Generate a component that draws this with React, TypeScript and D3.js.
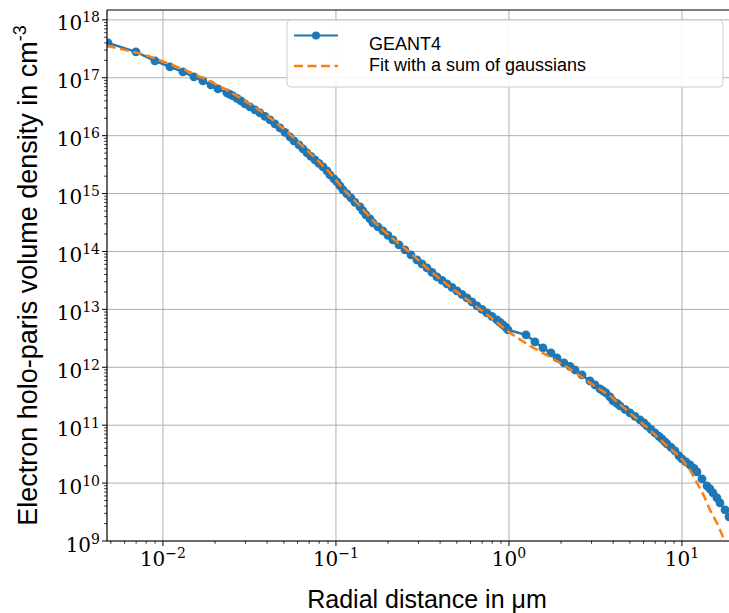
import React from "react";
import * as d3 from "d3";

// GEANT4 simulated profile (radial distance in µm, density in cm^-3)
const geantX = [
  0.00481, 0.00698, 0.00899, 0.01098, 0.01305, 0.01511, 0.01702, 0.01894, 0.02079, 0.02343,
  0.02439, 0.02538, 0.02677, 0.02824, 0.02979, 0.03184, 0.03403, 0.03637, 0.03887, 0.04154,
  0.04439, 0.04745, 0.05071, 0.05419, 0.05719, 0.06112, 0.0645, 0.06801, 0.0717, 0.07562,
  0.07975, 0.08412, 0.08872, 0.09233, 0.09736, 0.10135, 0.10546, 0.10977, 0.11576, 0.12207,
  0.12874, 0.13762, 0.14324, 0.14906, 0.1572, 0.16362, 0.17486, 0.18689, 0.19974, 0.21355,
  0.2313, 0.25049, 0.27135, 0.2939, 0.31412, 0.33574, 0.35884, 0.38357, 0.40996, 0.43816,
  0.4683, 0.50051, 0.53495, 0.57175, 0.61108, 0.65313, 0.69808, 0.74611, 0.79744, 0.85229,
  0.88716, 0.92325, 0.96093, 0.98674,
  1.254, 1.4131, 1.5726, 1.749, 1.8943, 2.0795, 2.2525, 2.4073, 2.6424, 2.9383,
  3.141, 3.3574, 3.4946, 3.6366, 3.8357, 3.9921, 4.2104, 4.3818, 4.683, 5.0051,
  5.3495, 5.7175, 6.03, 6.2762, 6.6194, 6.9813, 7.3631, 7.6626, 7.975, 8.1905,
  8.6375, 9.1112, 9.6097, 10.0, 10.546, 11.122, 11.731, 12.211, 13.05, 13.947,
  14.514, 15.11, 15.935, 16.586, 17.73, 18.696,
];
const geantY = [
  4.01e17, 2.8e17, 1.96e17, 1.54e17, 1.26e17, 1.04e17, 8.84e16, 7.54e16, 6.43e16, 5.49e16,
  5.17e16, 4.87e16, 4.41e16, 3.99e16, 3.54e16, 3.14e16, 2.79e16, 2.48e16, 2.15e16, 1.88e16,
  1.6e16, 1.36e16, 1.14e16, 9.54e15, 8.13e15, 6.94e15, 5.92e15, 5.05e15, 4.39e15, 3.82e15,
  3.32e15, 2.89e15, 2.47e15, 2.1e15, 1.8e15, 1.59e15, 1.36e15, 1.16e15, 9.88e14, 8.43e14,
  7.05e14, 5.89e14, 5.03e14, 4.29e14, 3.66e14, 3.12e14, 2.66e14, 2.27e14, 1.9e14, 1.59e14,
  1.3e14, 1.07e14, 8.74e13, 7.16e13, 6.11e13, 5.21e13, 4.36e13, 3.64e13, 3.17e13, 2.76e13,
  2.4e13, 2.09e13, 1.82e13, 1.58e13, 1.35e13, 1.15e13, 1.0e13, 8.7e12, 7.57e12, 6.59e12,
  5.96e12, 5.4e12, 4.89e12, 4.43e12,
  3.63e12, 2.75e12, 2.16e12, 1.77e12, 1.45e12, 1.19e12, 1.04e12, 9.02e11, 7.39e11, 5.82e11,
  4.97e11, 4.24e11, 3.91e11, 3.61e11, 3.08e11, 2.63e11, 2.38e11, 2.15e11, 1.88e11, 1.63e11,
  1.42e11, 1.24e11, 1.1e11, 9.72e10, 8.46e10, 7.36e10, 6.41e10, 5.8e10, 5.15e10, 4.75e10,
  4.14e10, 3.6e10, 2.95e10, 2.62e10, 2.32e10, 2.06e10, 1.8e10, 1.56e10, 1.18e10, 8.95e9,
  7.94e9, 6.77e9, 5.55e9, 4.55e9, 3.44e9, 2.61e9,
];

// Fit with a sum of gaussians
const fitX = [
  0.00474, 0.00603, 0.00787, 0.01027, 0.0134, 0.01749, 0.02282, 0.02978, 0.03886, 0.05072,
  0.06194, 0.07562, 0.0923, 0.1127, 0.1376, 0.168, 0.205, 0.2679, 0.3495, 0.4561,
  0.5953, 0.7768, 1.014, 1.322, 1.725, 2.252, 2.938, 3.834, 5.002, 6.527,
  7.975, 9.73, 11.12, 12.21, 13.4, 14.52, 15.93, 17.26, 18.2,
];
const fitY = [
  3.56e17, 3.03e17, 2.49e17, 1.85e17, 1.37e17, 9.57e16, 6.43e16, 3.99e16, 2.38e16, 1.26e16,
  7.22e15, 4.14e15, 2.28e15, 1.11e15, 6.13e14, 3.12e14, 1.82e14, 9.65e13, 4.62e13, 2.45e13,
  1.35e13, 7.42e12, 3.93e12, 2.34e12, 1.51e12, 9.38e11, 5.38e11, 3.21e11, 1.63e11, 8.3e10,
  4.75e10, 2.84e10, 1.69e10, 1.01e10, 6.01e9, 3.44e9, 2.05e9, 1.18e9, 7.6e8,
];

const xDomain = [0.00475, 20.25];
const yDomain = [1e9, 1.48e18];
const xMajorExp = [-2, -1, 0, 1];
const yMajorExp = [9, 10, 11, 12, 13, 14, 15, 16, 17, 18];
const legendLabels = ["GEANT4", "Fit with a sum of gaussians"];
const xLabel = "Radial distance in μm";
const yLabel = "Electron holo-paris volume density in cm";
const yLabelSup = "-3";

const W = 729;
const H = 613;
const M = { left: 107, top: 10, right: 735, bottom: 541 };
const BLUE = "#1f77b4";
const ORANGE = "#ff7f0e";
const GRID = "#b0b0b0";
const SERIF = "'DejaVu Serif', serif";
const SANS = "'Liberation Sans', Arial, sans-serif";

const fmtExp = (e: number) => (e < 0 ? "\u2212" + Math.abs(e) : String(e));

export default function App() {
  const x = d3.scaleLog().domain(xDomain).range([M.left, M.right]);
  const y = d3.scaleLog().domain(yDomain).range([M.bottom, M.top]);

  const geant = geantX.map((v, i) => [v, geantY[i]] as [number, number]);
  const fit = fitX.map((v, i) => [v, fitY[i]] as [number, number]);
  const line = d3
    .line<[number, number]>()
    .x((d) => x(d[0]))
    .y((d) => y(d[1]));

  const xMinor: number[] = [];
  for (let e = -3; e <= 1; e++) {
    for (let m = 2; m <= 9; m++) {
      const v = m * Math.pow(10, e);
      if (v >= xDomain[0] && v <= xDomain[1]) xMinor.push(v);
    }
  }
  const yMinor: number[] = [];
  for (let e = 9; e <= 18; e++) {
    for (let m = 2; m <= 9; m++) {
      const v = m * Math.pow(10, e);
      if (v >= yDomain[0] && v <= yDomain[1]) yMinor.push(v);
    }
  }

  const legX = 287;
  const legY = 20;

  return (
    <svg
      width={W}
      height={H}
      style={{ position: "absolute", left: 0, top: 0, background: "#fff" }}
    >
      <defs>
        <clipPath id="plotClip">
          <rect x={M.left} y={M.top} width={M.right - M.left} height={M.bottom - M.top} />
        </clipPath>
      </defs>
      <rect x={0} y={0} width={W} height={H} fill="#fff" />

      {/* grid */}
      <g stroke={GRID} strokeWidth={1}>
        {xMajorExp.map((e) => (
          <line key={"gx" + e} x1={x(Math.pow(10, e))} x2={x(Math.pow(10, e))} y1={M.top} y2={M.bottom} />
        ))}
        {yMajorExp.map((e) => (
          <line key={"gy" + e} x1={M.left} x2={M.right} y1={y(Math.pow(10, e))} y2={y(Math.pow(10, e))} />
        ))}
      </g>

      {/* series */}
      <g clipPath="url(#plotClip)">
        <path d={line(geant) || ""} fill="none" stroke={BLUE} strokeWidth={2.5} />
        {geant.map((d, i) => (
          <circle key={"m" + i} cx={x(d[0])} cy={y(d[1])} r={4.4} fill={BLUE} />
        ))}
        <path
          d={line(fit) || ""}
          fill="none"
          stroke={ORANGE}
          strokeWidth={2.5}
          strokeDasharray="9,4.5"
        />
      </g>

      {/* spines */}
      <g stroke="#000" strokeWidth={1.2}>
        <line x1={M.left} x2={M.left} y1={M.top} y2={M.bottom} />
        <line x1={M.left} x2={M.right} y1={M.bottom} y2={M.bottom} />
        <line x1={M.left} x2={M.right} y1={M.top} y2={M.top} />
      </g>

      {/* ticks */}
      <g stroke="#000" strokeWidth={1}>
        {xMajorExp.map((e) => (
          <line key={"tx" + e} x1={x(Math.pow(10, e))} x2={x(Math.pow(10, e))} y1={M.bottom} y2={M.bottom + 5} />
        ))}
        {xMinor.map((v, i) => (
          <line key={"mx" + i} x1={x(v)} x2={x(v)} y1={M.bottom} y2={M.bottom + 2.8} strokeWidth={0.8} />
        ))}
        {yMajorExp.map((e) => (
          <line key={"ty" + e} x1={M.left - 5} x2={M.left} y1={y(Math.pow(10, e))} y2={y(Math.pow(10, e))} />
        ))}
        {yMinor.map((v, i) => (
          <line key={"my" + i} x1={M.left - 2.8} x2={M.left} y1={y(v)} y2={y(v)} strokeWidth={0.8} />
        ))}
      </g>

      {/* tick labels */}
      <g fontFamily={SERIF} fill="#000">
        {xMajorExp.map((e) => (
          <text key={"lx" + e} x={x(Math.pow(10, e))} y={566} textAnchor="middle" fontSize={20}>
            <tspan>10</tspan>
            <tspan dy={-8} fontSize={14}>
              {fmtExp(e)}
            </tspan>
          </text>
        ))}
        {yMajorExp.map((e) => (
          <text key={"ly" + e} x={100} y={y(Math.pow(10, e)) + 10.5} textAnchor="end" fontSize={20}>
            <tspan>10</tspan>
            <tspan dy={-8} fontSize={14}>
              {fmtExp(e)}
            </tspan>
          </text>
        ))}
      </g>

      {/* axis labels */}
      <text x={427} y={608} textAnchor="middle" fontFamily={SANS} fontSize={25} fill="#000">
        {xLabel}
      </text>
      <text
        transform={`translate(37,${(M.top + M.bottom) / 2}) rotate(-90)`}
        textAnchor="middle"
        fontFamily={SANS}
        fontSize={27}
        fill="#000"
      >
        <tspan>{yLabel}</tspan>
        <tspan dy={-11} fontSize={18}>
          {yLabelSup}
        </tspan>
      </text>

      {/* legend */}
      <g>
        <rect
          x={legX}
          y={legY}
          width={436}
          height={67}
          rx={4}
          fill="#fff"
          fillOpacity={0.9}
          stroke="#cccccc"
          strokeWidth={1}
        />
        <line x1={294} x2={338} y1={35.5} y2={35.5} stroke={BLUE} strokeWidth={2} />
        <circle cx={316} cy={35.5} r={4} fill={BLUE} />
        <line x1={294} x2={338} y1={66} y2={66} stroke={ORANGE} strokeWidth={2.5} strokeDasharray="9,4.5" />
        <text x={369} y={49.5} fontFamily={SANS} fontSize={18} fill="#000">
          {legendLabels[0]}
        </text>
        <text x={369} y={71} fontFamily={SANS} fontSize={18} fill="#000">
          {legendLabels[1]}
        </text>
      </g>
    </svg>
  );
}
